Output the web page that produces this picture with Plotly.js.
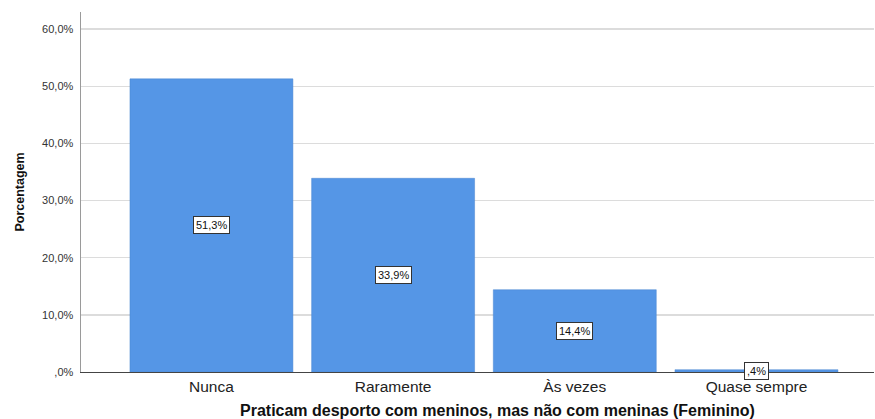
<!DOCTYPE html>
<html>
<head>
<meta charset="utf-8">
<script src="https://cdn.plot.ly/plotly-3.0.1.min.js"></script>
<style>html,body{margin:0;padding:0;background:#fff;}#chart{width:875px;height:419px;}</style>
</head>
<body>
<div id="chart"></div>
<script>
const categories = ["Nunca", "Raramente", "Às vezes", "Quase sempre"];
const percentages = [51.3, 33.9, 14.4, 0.4];
const yTickValues = [0, 10, 20, 30, 40, 50, 60];
const yTickLabels = [",0%", "10,0%", "20,0%", "30,0%", "40,0%", "50,0%", "60,0%"];
const xTitle = "Praticam desporto com meninos, mas não com meninas (Feminino)";
const yTitle = "Porcentagem";

function fmt(v) {
  let s = v.toFixed(1).replace('.', ',');
  if (s.startsWith('0')) s = s.slice(1);
  return s + '%';
}

const trace = {
  type: 'bar',
  x: categories.map((c, i) => i),
  y: percentages,
  width: 0.897,
  marker: {color: '#5596e6', line: {color: '#4a86d0', width: 0.5}},
  hoverinfo: 'none'
};

const annotations = percentages.map((v, i) => ({
  x: i, y: v / 2, xref: 'x', yref: 'y',
  text: fmt(v), showarrow: false,
  bgcolor: '#ffffff', bordercolor: '#333333', borderwidth: 1, borderpad: 2,
  font: {family: 'Liberation Sans, Arial, sans-serif', size: 11, color: '#111'}
}));

annotations.push({
  xref: 'paper', yref: 'paper', x: 0.5246, y: -0.1056,
  xanchor: 'center', yanchor: 'middle', showarrow: false,
  text: '<b>' + xTitle + '</b>',
  font: {family: 'Liberation Sans, Arial, sans-serif', size: 16, color: '#111'}
});

const layout = {
  width: 875, height: 419,
  margin: {l: 81, r: 1, t: 12, b: 47},
  paper_bgcolor: '#fff', plot_bgcolor: '#fff',
  showlegend: false,
  font: {family: 'Liberation Sans, Arial, sans-serif', color: '#222'},
  xaxis: {
    range: [-0.718, 3.647],
    tickvals: categories.map((c, i) => i),
    ticktext: categories,
    tickfont: {size: 15.5, color: '#222'},
    showgrid: false, zeroline: false,
    showline: true, linecolor: '#444', linewidth: 1,
    ticks: ''
  },
  yaxis: {
    range: [0, 63],
    tickvals: yTickValues,
    ticktext: yTickLabels,
    tickfont: {size: 11, color: '#333'},
    showgrid: true, gridcolor: '#dcdcdc', gridwidth: 1.5,
    zeroline: false,
    showline: true, linecolor: '#9a9a9a', linewidth: 1.5,
    ticks: '', ticklabelstandoff: 4,
    title: {text: '<b>' + yTitle + '</b>', font: {size: 12.5, color: '#111'}, standoff: 14}
  },
  annotations: annotations
};

Plotly.newPlot('chart', [trace], layout, {displayModeBar: false, staticPlot: true});
</script>
</body>
</html>
